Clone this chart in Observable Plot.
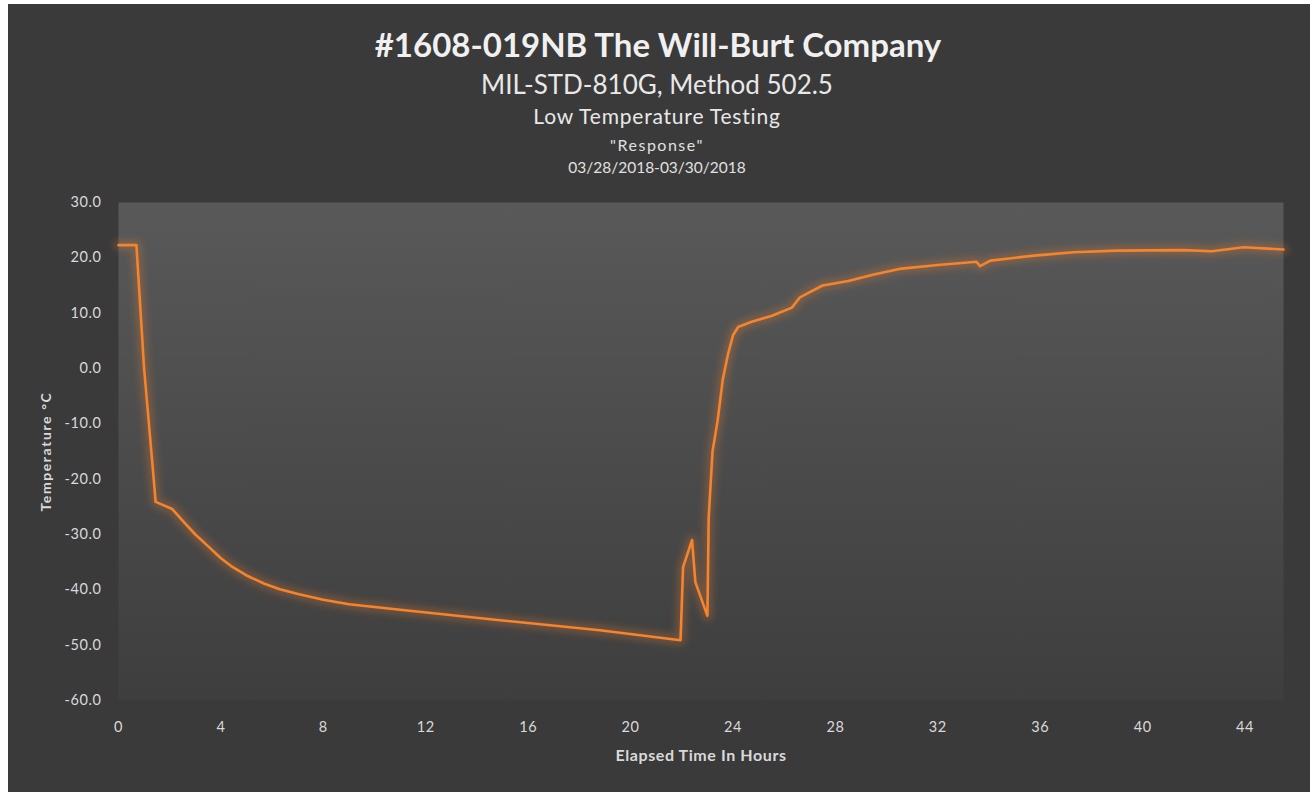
<!DOCTYPE html>
<html>
<head>
<meta charset="utf-8">
<script src="https://cdn.jsdelivr.net/npm/d3@7"></script>
<script src="https://cdn.jsdelivr.net/npm/@observablehq/plot@0.6"></script>
<style>
  html, body { margin: 0; padding: 0; background: #ffffff; }
  #page { position: relative; width: 1314px; height: 792px; overflow: hidden; background: #fff; font-family: Lato, "Open Sans", sans-serif; }
  #panel { position: absolute; left: 8px; top: 4px; width: 1302px; height: 788px; background: #3a3a3a; }
  .t { position: absolute; left: 0; width: 1314px; text-align: center; color: #f0f0f0; white-space: nowrap; }
  #chart { position: absolute; left: 8px; top: 186px; }
</style>
</head>
<body>
<div id="page">
  <div id="panel"></div>
  <div class="t" style="top:24px; font-size:33px; font-weight:700; left:1px;">#1608-019NB The Will-Burt Company</div>
  <div class="t" style="top:68px; font-size:26px; color:#e8e8e8;">MIL-STD-810G, Method 502.5</div>
  <div class="t" style="top:103px; font-size:21px; letter-spacing:0.8px; color:#e8e8e8;">Low Temperature Testing</div>
  <div class="t" style="top:135px; font-size:16px; letter-spacing:1.5px; color:#e0e0e0;">"Response"</div>
  <div class="t" style="top:158px; font-size:15.5px; color:#e0e0e0;">03/28/2018-03/30/2018</div>
  <div id="chart"></div>
</div>
<script>
// Elapsed time (hours) and temperature (°C)
const hours = [0, 0.7, 1.0, 1.37, 1.45, 2.1, 2.6, 3.0, 3.4, 4.0, 4.4, 5.0, 5.7, 6.3, 7.05, 8.0, 9.0, 11.0, 14.9, 18.8, 21.95,
  22.05, 22.4, 22.53, 23.0, 23.05, 23.2, 23.4, 23.6, 23.8, 24.0, 24.2, 24.7, 25.5, 26.3, 26.6, 27.0,
  27.5, 28.5, 29.5, 30.5, 32.0, 33.5, 33.65, 34.05, 35.75, 37.3, 39.0, 41.6, 42.7, 43.95, 45.5];
const temps = [22.3, 22.3, 0.0, -19.7, -24.1, -25.4, -28.0, -30.0, -31.7, -34.3, -35.7, -37.4, -38.9, -39.9, -40.8, -41.8, -42.6, -43.6, -45.5, -47.3, -49.1,
  -35.9, -31.0, -38.6, -44.7, -27.0, -15.0, -9.4, -2.0, 2.5, 6.0, 7.5, 8.4, 9.5, 11.0, 12.8, 13.8,
  15.0, 15.8, 17.0, 18.0, 18.7, 19.3, 18.5, 19.5, 20.4, 21.0, 21.3, 21.4, 21.2, 21.9, 21.5];
const xTicks = [0, 4, 8, 12, 16, 20, 24, 28, 32, 36, 40, 44];
const yTicks = [30, 20, 10, 0, -10, -20, -30, -40, -50, -60];

const data = hours.map((h, i) => ({hour: h, temp: temps[i]}));

const lineColor = "#f7832a";
const plot = Plot.plot({
  width: 1302,
  height: 606,
  marginTop: 16,
  marginBottom: 92,
  marginLeft: 110,
  marginRight: 27,
  style: {background: "transparent", color: "#d9d9d9", fontFamily: "Lato, 'Open Sans', sans-serif", fontSize: "14.5px"},
  x: {domain: [0, 45.5], ticks: xTicks, tickSize: 0, tickPadding: 21, label: "Elapsed Time In Hours", labelAnchor: "center", labelOffset: 60, labelArrow: "none"},
  y: {domain: [-60, 30], ticks: yTicks, tickSize: 0, tickPadding: 17, tickFormat: d => d.toFixed(1), label: "Temperature °C", labelAnchor: "center", labelOffset: 77, labelArrow: "none"},
  marks: [
    Plot.frame({fill: "url(#bgGrad)", stroke: null}),
    Plot.line(data, {x: "hour", y: "temp", stroke: lineColor, strokeWidth: 10, strokeOpacity: 0.25, strokeLinejoin: "round"}),
    Plot.line(data, {x: "hour", y: "temp", stroke: lineColor, strokeWidth: 2.6, strokeLinejoin: "round"})
  ]
});

const ns = "http://www.w3.org/2000/svg";
const defs = document.createElementNS(ns, "defs");
defs.innerHTML = `
  <linearGradient id="bgGrad" x1="0" y1="0" x2="0" y2="1">
    <stop offset="0" stop-color="#595959"/>
    <stop offset="0.4" stop-color="#4e4e4e"/>
    <stop offset="1" stop-color="#3e3e3e"/>
  </linearGradient>
  <filter id="glow" x="-10%" y="-10%" width="120%" height="120%">
    <feGaussianBlur stdDeviation="3.5"/>
  </filter>`;
plot.insertBefore(defs, plot.firstChild);
const lines = plot.querySelectorAll('g[aria-label="line"]');
if (lines.length) lines[0].setAttribute("filter", "url(#glow)");
plot.querySelectorAll('g[aria-label="x-axis tick label"] text, g[aria-label="y-axis tick label"] text').forEach(t => {
  t.setAttribute("letter-spacing", "0.6px");
});
plot.querySelectorAll('g[aria-label="x-axis label"] text').forEach(t => {
  t.setAttribute("font-weight", "700");
  t.setAttribute("font-size", "16px");
  t.setAttribute("letter-spacing", "0.6px");
});
plot.querySelectorAll('g[aria-label="y-axis label"] text').forEach(t => {
  t.setAttribute("font-weight", "700");
  t.setAttribute("font-size", "14px");
  t.setAttribute("letter-spacing", "1.6px");
});
document.getElementById("chart").appendChild(plot);
</script>
</body>
</html>
